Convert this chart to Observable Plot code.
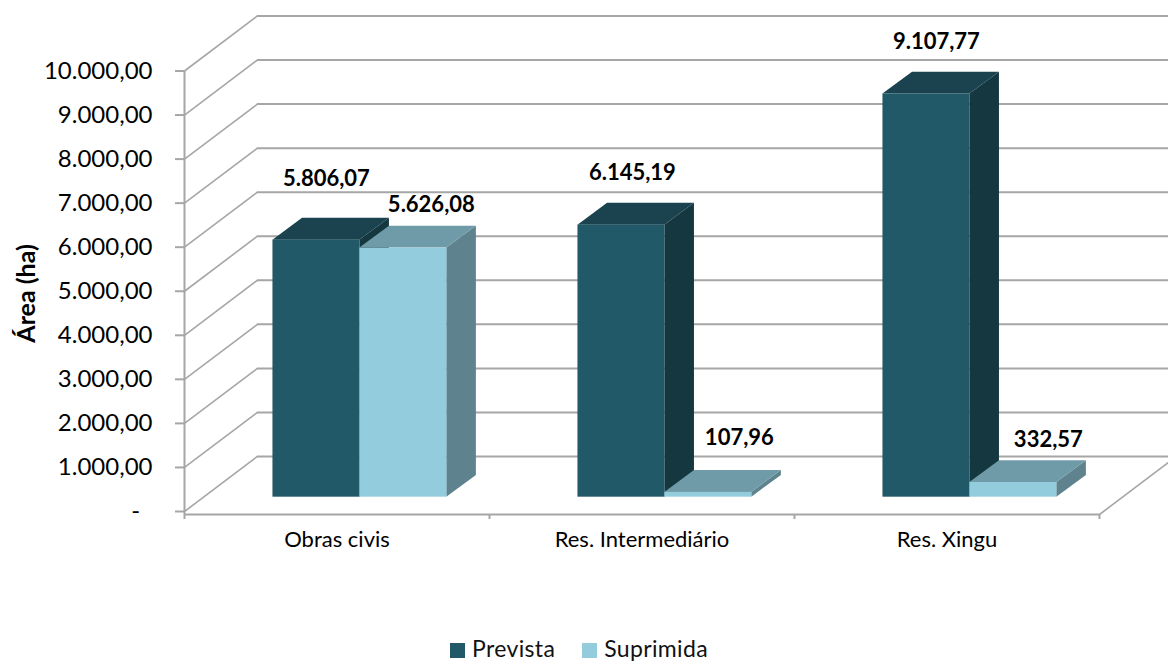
<!DOCTYPE html>
<html lang="pt-BR">
<head>
<meta charset="utf-8">
<script src="https://cdn.jsdelivr.net/npm/d3@7"></script>
<script src="https://cdn.jsdelivr.net/npm/@observablehq/plot@0.6"></script>
<style>
  html, body { margin: 0; padding: 0; background: #fff; overflow: hidden; }
  #legend { position: absolute; left: 450px; top: 634px; display: flex; font: 23px/28px Lato, sans-serif; letter-spacing: 0.35px; color: #111; }
  #legend .item { display: flex; align-items: center; height: 28px; }
  #legend .sw { width: 15px; height: 15px; margin-right: 7px; margin-top: 4px; }
</style>
</head>
<body>
<div id="chart"></div>
<script>
const categories = ["Obras civis", "Res. Intermediário", "Res. Xingu"];
const seriesNames = ["Prevista", "Suprimida"];
const prevista = [5806.07, 6145.19, 9107.77];
const suprimida = [5626.08, 107.96, 332.57];
const yTicks = [0, 1000, 2000, 3000, 4000, 5000, 6000, 7000, 8000, 9000, 10000];
const faceColors = {
  Prevista: {front: "#215968", top: "#1a434f", side: "#15373f"},
  Suprimida: {front: "#93cddd", top: "#6f9ba8", side: "#5e838e"}
};

// Pseudo-3D geometry, in scale units (categories on x, hectares on y)
const wallDx = 0.239, wallDy = 1249;
const barDx = 0.097, barDy = 495;
const barStart = [0.29, 0.575];
const barW = 0.285;
const lift = 325;
const gain = 1.005;

const locale = d3.formatLocale({decimal: ",", thousands: ".", grouping: [3], currency: ["R$", ""]});
const fmt = locale.format(",.2f");
const tickFmt = v => v === 0 ? "-\u00a0\u00a0" : fmt(v);

const bars = [];
categories.forEach((c, i) => {
  [prevista, suprimida].forEach((arr, s) => {
    const x1 = i + barStart[s], x2 = x1 + barW;
    const top = lift + arr[i] * gain;
    bars.push({cat: c, i, series: seriesNames[s], value: arr[i], x1, x2, y1: lift, top});
  });
});

const sideFace = b => [
  {x: b.x2, y1: b.y1, y2: b.top},
  {x: b.x2 + barDx, y1: b.y1 + barDy, y2: b.top + barDy}
];
const topFace = b => [
  {y: b.top, x1: b.x1, x2: b.x2},
  {y: b.top + barDy, x1: b.x1 + barDx, x2: b.x2 + barDx}
];

const gridStyle = {stroke: "#a6a6a6", strokeWidth: 2};

// Per-label placement of the data labels relative to the bar's top
const nudge = {
  "Prevista": {0: [10, 61], 1: [11, 52], 2: [10, 52]},
  "Suprimida": {0: [28, 43], 1: [31, 54], 2: [35, 43]}
};

const barFaces = bars.flatMap(b => {
  const c = faceColors[b.series];
  return [
    Plot.areaY(sideFace(b), {x: "x", y1: "y1", y2: "y2", fill: c.side}),
    Plot.areaX(topFace(b), {y: "y", x1: "x1", x2: "x2", fill: c.top}),
    Plot.rect([b], {x1: "x1", x2: "x2", y1: "y1", y2: "top", fill: c.front, inset: 0})
  ];
});

const chart = Plot.plot({
  width: 1168,
  height: 630,
  marginLeft: 184,
  marginRight: 69,
  marginTop: 15,
  marginBottom: 116,
  style: {fontFamily: "Lato, sans-serif", background: "#fff", color: "#000"},
  x: {type: "linear", domain: [0, 3], range: [184, 1099]},
  y: {type: "linear", domain: [0, 10000], range: [511, 70.5]},
  marks: [
    Plot.ruleY(yTicks, {y: d => d + wallDy, x1: wallDx, x2: 3 + wallDx + 0.1, ...gridStyle}),
    Plot.link(yTicks, {x1: 0, y1: d => d, x2: wallDx, y2: d => d + wallDy, ...gridStyle, strokeWidth: 1.6}),
    Plot.link([0], {x1: 3, y1: -68, x2: 3 + wallDx, y2: wallDy - 68, ...gridStyle, strokeWidth: 1.6}),
    Plot.ruleX([0], {y1: -68, y2: 10000, ...gridStyle}),
    Plot.ruleY([-68], {x1: 0, x2: 3, ...gridStyle}),
    Plot.axisY({
      ticks: yTicks, tickFormat: tickFmt, tickSize: 9, tickPadding: 23,
      stroke: "#a6a6a6", strokeWidth: 2, fill: "#000", fontSize: 24, label: null
    }),
    Plot.axisX({ticks: [0, 1, 2, 3], tickFormat: () => "", tickSize: 5, stroke: "#a6a6a6", strokeWidth: 2, label: null}),
    Plot.axisX({
      ticks: categories.map((_, i) => i + 0.5),
      tickFormat: v => categories[Math.floor(v)],
      tickSize: 0, tickPadding: 17, fill: "#000", fontSize: 22, label: null
    }),
    ...barFaces,
    ...bars.map(b => Plot.text([b], {
      x: d => (d.x1 + d.x2) / 2,
      y: "top",
      text: d => fmt(d.value),
      dx: nudge[b.series][b.i][0],
      dy: -nudge[b.series][b.i][1],
      fontSize: 22, fontWeight: 700, fill: "#000"
    })),
    Plot.text(["Área (ha)"], {
      frameAnchor: "left", y: 4950, dx: -158, rotate: -90,
      fontSize: 25, fontWeight: 700, fill: "#000", textAnchor: "middle"
    })
  ]
});
document.getElementById("chart").append(chart);

const legend = document.createElement("div");
legend.id = "legend";
seriesNames.forEach((name, i) => {
  const item = document.createElement("div");
  item.className = "item";
  item.style.marginRight = "27px";
  const sw = document.createElement("span");
  sw.className = "sw";
  sw.style.background = faceColors[name].front;
  const label = document.createElement("span");
  label.textContent = name;
  item.append(sw, label);
  legend.append(item);
});
document.body.append(legend);
</script>
</body>
</html>
